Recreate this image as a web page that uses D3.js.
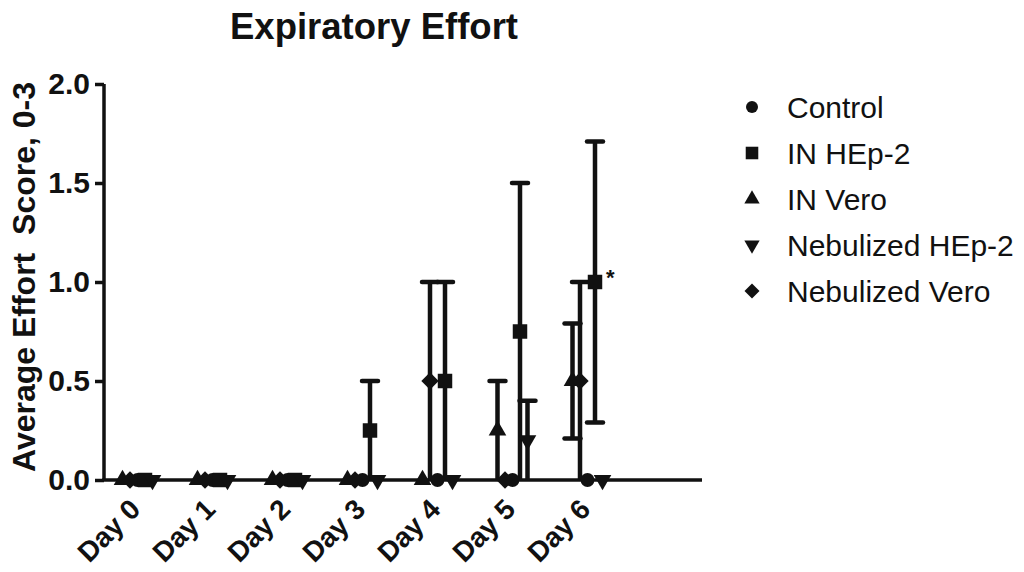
<!DOCTYPE html>
<html>
<head>
<meta charset="utf-8">
<script src="https://cdn.jsdelivr.net/npm/d3@7"></script>
<style>
  html, body { margin: 0; padding: 0; background: #fff; }
  svg { display: block; font-family: Arial, "Liberation Sans", sans-serif; }
</style>
</head>
<body>
<svg id="chart" width="1024" height="572"></svg>
<script>
// ---- data ----
const days = ["Day 0", "Day 1", "Day 2", "Day 3", "Day 4", "Day 5", "Day 6"];
const seriesNames = ["Control", "IN HEp-2", "IN Vero", "Nebulized HEp-2", "Nebulized Vero"];
const controlMean = [0, 0, 0, 0, 0, 0, 0];
const controlErr  = [0, 0, 0, 0, 0, 0, 0];
const inHep2Mean  = [0, 0, 0, 0.25, 0.5, 0.75, 1.0];
const inHep2Err   = [0, 0, 0, 0.25, 0.5, 0.75, 0.71];
const inVeroMean  = [0, 0, 0, 0, 0, 0.25, 0.5];
const inVeroErr   = [0, 0, 0, 0, 0, 0.25, 0.29];
const nebHep2Mean = [0, 0, 0, 0, 0, 0.2, 0];
const nebHep2Err  = [0, 0, 0, 0, 0, 0.2, 0];
const nebVeroMean = [0, 0, 0, 0, 0.5, 0, 0.5];
const nebVeroErr  = [0, 0, 0, 0, 0.5, 0, 0.5];
const yTicks = [0, 0.5, 1.0, 1.5, 2.0];
const significance = [{ series: "IN HEp-2", day: "Day 6", label: "*" }];

// ---- setup ----
const svg = d3.select("#chart");
const ink = "#111";
const seriesData = [
  { name: "Control", mean: controlMean, err: controlErr, symbol: d3.symbolCircle, size: 150, offset: 0, rot: 0 },
  { name: "IN HEp-2", mean: inHep2Mean, err: inHep2Err, symbol: d3.symbolSquare, size: 210, offset: 7.5, rot: 0 },
  { name: "IN Vero", mean: inVeroMean, err: inVeroErr, symbol: d3.symbolTriangle, size: 135, offset: -15, rot: 0 },
  { name: "Nebulized HEp-2", mean: nebHep2Mean, err: nebHep2Err, symbol: d3.symbolTriangle, size: 135, offset: 15, rot: 180 },
  { name: "Nebulized Vero", mean: nebVeroMean, err: nebVeroErr, symbol: d3.symbolSquare, size: 150, offset: -7.5, rot: 45 }
];

const x = d3.scalePoint().domain(days).range([137.5, 587.5]);
const y = d3.scaleLinear().domain([0, 2]).range([480, 84]);
const axisX0 = 104, axisX1 = 702;

// title
svg.append("text").attr("x", 374).attr("y", 39).attr("text-anchor", "middle")
  .attr("font-size", 36.5).attr("font-weight", "bold").attr("fill", ink).text("Expiratory Effort");

// y axis
const yAxis = svg.append("g").attr("transform", `translate(${axisX0},0)`)
  .call(d3.axisLeft(y).tickValues(yTicks).tickFormat(d3.format(".1f")).tickSize(9).tickPadding(5));
yAxis.select(".domain").attr("d", `M0,${y(2)}V${y(0)}`).attr("stroke", ink).attr("stroke-width", 3.5);
yAxis.selectAll(".tick line").attr("stroke", ink).attr("stroke-width", 3.5);
yAxis.selectAll(".tick text").attr("font-size", 30).attr("font-weight", "bold").attr("fill", ink)
  .attr("font-family", "Arial, 'Liberation Sans', sans-serif");

// y label
svg.append("text").attr("transform", `translate(35,277) rotate(-90)`).attr("text-anchor", "middle")
  .attr("font-size", 32).attr("font-weight", "bold").attr("fill", ink)
  .attr("xml:space", "preserve").style("white-space", "pre")
  .text("Average Effort  Score, 0-3");

// x axis line
svg.append("line").attr("x1", axisX0 - 1.75).attr("x2", axisX1).attr("y1", y(0)).attr("y2", y(0))
  .attr("stroke", ink).attr("stroke-width", 3.5);

// x labels
const xAxis = svg.append("g").attr("transform", `translate(0,${y(0)})`)
  .call(d3.axisBottom(x).tickSize(0).tickPadding(0));
xAxis.select(".domain").remove();
xAxis.selectAll(".tick text")
  .attr("font-size", 28).attr("font-weight", "bold").attr("fill", ink)
  .attr("font-family", "Arial, 'Liberation Sans', sans-serif")
  .attr("text-anchor", "end").attr("dy", null).attr("y", 0)
  .attr("transform", "translate(4,31) rotate(-45)");

// error bars
const capHalf = 8;
const plot = svg.append("g");
seriesData.forEach(s => {
  days.forEach((d, i) => {
    const e = s.err[i];
    if (!e) return;
    const cx = x(d) + s.offset;
    const lo = Math.max(0, s.mean[i] - e), hi = s.mean[i] + e;
    const g = plot.append("g").attr("stroke", ink).attr("stroke-width", 4.5).attr("stroke-linecap", "round");
    g.append("line").attr("x1", cx).attr("x2", cx).attr("y1", y(lo)).attr("y2", y(hi)).attr("stroke-linecap", "butt");
    g.append("line").attr("x1", cx - capHalf).attr("x2", cx + capHalf).attr("y1", y(hi)).attr("y2", y(hi));
    if (lo > 0) g.append("line").attr("x1", cx - capHalf).attr("x2", cx + capHalf).attr("y1", y(lo)).attr("y2", y(lo));
  });
});

// markers
seriesData.forEach(s => {
  plot.selectAll(null).data(days).enter().append("path")
    .attr("d", d3.symbol().type(s.symbol).size(s.size))
    .attr("transform", (d, i) => `translate(${x(d) + s.offset},${y(s.mean[i])}) rotate(${s.rot})`)
    .attr("fill", ink);
});

// significance marker
significance.forEach(m => {
  const s = seriesData.find(t => t.name === m.series);
  const i = days.indexOf(m.day);
  svg.append("text").attr("x", x(m.day) + s.offset + 11).attr("y", y(s.mean[i]) + 3)
    .attr("font-size", 22).attr("font-weight", "bold").attr("fill", ink).text(m.label);
});

// legend
const legendY = [107, 153, 199, 245, 291];
seriesData.forEach((s, k) => {
  const g = svg.append("g").attr("transform", `translate(752,${legendY[k]})`);
  g.append("path").attr("d", d3.symbol().type(s.symbol).size(s.size * 0.75))
    .attr("transform", `rotate(${s.rot})`).attr("fill", ink);
  g.append("text").attr("x", 35).attr("dy", "0.36em").attr("font-size", 30).attr("fill", ink).text(s.name);
});
</script>
</body>
</html>
